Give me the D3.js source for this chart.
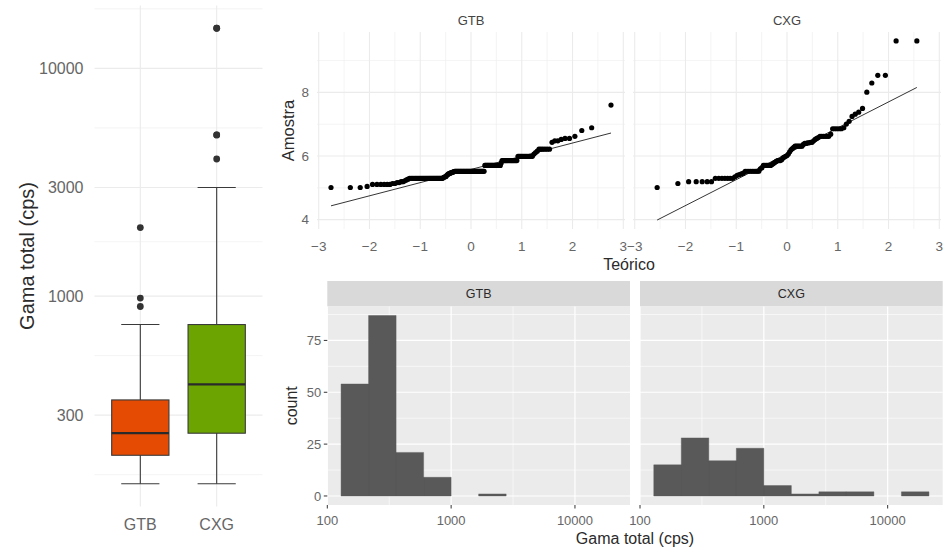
<!DOCTYPE html>
<html>
<head>
<meta charset="utf-8">
<script src="https://cdn.jsdelivr.net/npm/d3@7"></script>
<style>
  html, body { margin: 0; padding: 0; background: #ffffff; }
  svg { display: block; font-family: "Liberation Sans", Arial, Helvetica, sans-serif; }
</style>
</head>
<body>
<svg id="chart" width="948" height="548"></svg>
<script>
// ---- data -------------------------------------------------------------
const sites = ["GTB", "CXG"];
const siteColors = ["#E54B03", "#6CA502"];

// Gamma total (cps) per sample, as distinct value + number of occurrences
const gtbValues  = [150,155,165,170,175,180,185,190,195,200,205,208,210,212,220,225,230,232,235,238,240,242,245,248,250,300,325,350,400,430,450,470,500,620,650,680,700,750,900,980,2000];
const gtbRepeats = [3,1,6,2,2,2,1,1,1,31,1,1,1,1,1,1,1,1,1,1,1,1,1,1,40,20,1,16,12,1,1,1,6,1,2,1,2,1,1,1,1];

const cxgValues  = [150,170,180,200,210,220,225,230,235,250,270,280,300,310,320,330,340,350,360,380,390,400,410,430,460,490,510,530,550,580,600,610,620,650,680,700,720,750,800,950,980,1100,1200,1400,1500,1600,1800,3000,4000,5100,15000];
const cxgRepeats = [1,1,5,7,1,1,1,1,1,9,1,1,6,1,1,1,1,3,1,1,1,1,1,1,1,1,1,1,6,1,2,2,2,1,1,1,1,6,1,5,1,1,1,1,1,1,1,1,1,2,2];

// axis breaks
const boxTicks   = [300, 1000, 3000, 10000];
const histTicks  = [100, 1000, 10000];
const countTicks = [0, 25, 50, 75];
const qqXTicks   = [-3, -2, -1, 0, 1, 2, 3];
const qqYTicks   = [4, 6, 8];

// ---- helpers ------------------------------------------------------------
const unroll = (vals, reps) => vals.flatMap((v, i) => Array(reps[i]).fill(v));
const samples = [unroll(gtbValues, gtbRepeats), unroll(cxgValues, cxgRepeats)].map(a => a.slice().sort(d3.ascending));

const expand = (lo, hi, f = 0.05) => { const d = (hi - lo) * f; return [lo - d, hi + d]; };

// inverse standard normal CDF (Acklam)
function qnorm(p) {
  const a = [-3.969683028665376e+01, 2.209460984245205e+02, -2.759285104469687e+02, 1.383577518672690e+02, -3.066479806614716e+01, 2.506628277459239e+00];
  const b = [-5.447609879822406e+01, 1.615858368580409e+02, -1.556989798598866e+02, 6.680131188771972e+01, -1.328068155288572e+01];
  const c = [-7.784894002430293e-03, -3.223964580411365e-01, -2.400758277161838e+00, -2.549732539343734e+00, 4.374664141464968e+00, 2.938163982698783e+00];
  const d = [7.784695709041462e-03, 3.224671290700398e-01, 2.445134137142996e+00, 3.754408661907416e+00];
  const pl = 0.02425, ph = 1 - pl;
  let q, r;
  if (p < pl) {
    q = Math.sqrt(-2 * Math.log(p));
    return (((((c[0]*q+c[1])*q+c[2])*q+c[3])*q+c[4])*q+c[5]) / ((((d[0]*q+d[1])*q+d[2])*q+d[3])*q+1);
  }
  if (p > ph) {
    q = Math.sqrt(-2 * Math.log(1 - p));
    return -(((((c[0]*q+c[1])*q+c[2])*q+c[3])*q+c[4])*q+c[5]) / ((((d[0]*q+d[1])*q+d[2])*q+d[3])*q+1);
  }
  q = p - 0.5; r = q * q;
  return (((((a[0]*r+a[1])*r+a[2])*r+a[3])*r+a[4])*r+a[5])*q / (((((b[0]*r+b[1])*r+b[2])*r+b[3])*r+b[4])*r+1);
}

const svg = d3.select("#chart");
const TICK_COL = "#666666", TITLE_COL = "#2b2b2b", GRID_MIN = "#EDEDED", GRID_MAJ = "#EBEBEB";

function text(g, x, y, s, size, col, anchor = "middle", rot = 0) {
  const t = g.append("text")
    .attr("x", x).attr("y", y).attr("dy", "0.35em")
    .attr("text-anchor", anchor)
    .attr("font-size", size).attr("fill", col).text(s);
  if (rot) t.attr("transform", `rotate(${rot},${x},${y})`);
  return t;
}

// minor breaks halfway between majors (in transformed space)
function minorBreaks(major, lim) {
  const b = major.slice();
  if (b[0] > lim[0]) b.unshift(b[0] - (b[1] - b[0]));
  if (b[b.length - 1] < lim[1]) b.push(b[b.length - 1] + (b[b.length - 1] - b[b.length - 2]));
  const out = [];
  for (let i = 0; i < b.length - 1; i++) out.push((b[i] + b[i + 1]) / 2);
  return out.filter(v => v >= lim[0] && v <= lim[1]);
}

// ---- left: box plot on log axis ----------------------------------------
(function boxPlot() {
  const P = { x0: 94.5, x1: 262.5, y0: 5.5, y1: 506.5 };
  const g = svg.append("g");
  const all = samples.flat().map(Math.log10);
  const lim = expand(d3.min(all), d3.max(all));
  const y = d3.scaleLog().domain(lim.map(v => 10 ** v)).range([P.y1, P.y0]);
  const x = d3.scalePoint().domain(sites).range([P.x0, P.x1]).padding(0.6);
  const step = x.step();

  // grid
  minorBreaks(boxTicks.map(Math.log10), lim).forEach(v => {
    g.append("line").attr("x1", P.x0).attr("x2", P.x1).attr("y1", y(10 ** v)).attr("y2", y(10 ** v))
      .attr("stroke", GRID_MIN).attr("stroke-width", 0.6);
  });
  boxTicks.forEach(v => {
    g.append("line").attr("x1", P.x0).attr("x2", P.x1).attr("y1", y(v)).attr("y2", y(v))
      .attr("stroke", GRID_MAJ).attr("stroke-width", 1.1);
    text(g, P.x0 - 11, y(v), d3.format("d")(v), 16, TICK_COL, "end");
  });
  sites.forEach(s => {
    g.append("line").attr("x1", x(s)).attr("x2", x(s)).attr("y1", P.y0).attr("y2", P.y1)
      .attr("stroke", GRID_MAJ).attr("stroke-width", 1.1);
    text(g, x(s), 524, s, 16, TICK_COL);
  });

  samples.forEach((smp, i) => {
    const lg = smp.map(Math.log10);
    const q1 = d3.quantile(lg, 0.25), med = d3.quantile(lg, 0.5), q3 = d3.quantile(lg, 0.75);
    const iqr = q3 - q1;
    const inside = lg.filter(v => v >= q1 - 1.5 * iqr && v <= q3 + 1.5 * iqr);
    const lo = d3.min(inside), hi = d3.max(inside);
    const outl = lg.filter(v => v < lo || v > hi);
    const cx = x(sites[i]);
    const bw = step * 0.75, ew = step * 0.5;
    const Y = v => y(10 ** v);
    // whisker bar with caps
    g.append("line").attr("x1", cx).attr("x2", cx).attr("y1", Y(lo)).attr("y2", Y(hi))
      .attr("stroke", "#3a3a3a").attr("stroke-width", 1.1);
    [lo, hi].forEach(v => g.append("line").attr("x1", cx - ew / 2).attr("x2", cx + ew / 2)
      .attr("y1", Y(v)).attr("y2", Y(v)).attr("stroke", "#3a3a3a").attr("stroke-width", 1.1));
    // box
    g.append("rect").attr("x", cx - bw / 2).attr("width", bw).attr("y", Y(q3)).attr("height", Y(q1) - Y(q3))
      .attr("fill", siteColors[i]).attr("stroke", "#3a3a3a").attr("stroke-width", 1.1);
    g.append("line").attr("x1", cx - bw / 2).attr("x2", cx + bw / 2).attr("y1", Y(med)).attr("y2", Y(med))
      .attr("stroke", "#2a2a2a").attr("stroke-width", 2.3);
    outl.forEach(v => g.append("circle").attr("cx", cx).attr("cy", Y(v)).attr("r", 3.4).attr("fill", "#333"));
  });

  text(g, 27, (P.y0 + P.y1) / 2, "Gama total (cps)", 20, TITLE_COL, "middle", -90);
})();

// ---- top right: normal Q-Q plots of ln(values) ----------------------------
(function qqPlot() {
  const P = { y0: 32, y1: 229, cols: [[317, 625], [633, 941]] };
  const g = svg.append("g");
  const qq = samples.map(smp => {
    const n = smp.length;
    const ln = smp.map(Math.log);
    const pts = ln.map((v, k) => ({ t: qnorm((k + 0.5) / n), s: v }));
    const s1 = d3.quantile(ln, 0.25), s3 = d3.quantile(ln, 0.75);
    const t1 = qnorm(0.25), t3 = qnorm(0.75);
    const slope = (s3 - s1) / (t3 - t1), icpt = s1 - slope * t1;
    const tx = d3.extent(pts, d => d.t);
    return { pts, line: tx.map(t => ({ t, s: icpt + slope * t })) };
  });
  const allT = qq.flatMap(d => d.pts.map(p => p.t));
  const allS = qq.flatMap(d => d.pts.map(p => p.s).concat(d.line.map(p => p.s)));
  const xl = expand(d3.min(allT), d3.max(allT));
  const yl = expand(d3.min(allS), d3.max(allS));
  const y = d3.scaleLinear().domain(yl).range([P.y1, P.y0]);

  qq.forEach((d, i) => {
    const [c0, c1] = P.cols[i];
    const x = d3.scaleLinear().domain(xl).range([c0, c1]);
    minorBreaks(qqXTicks, xl).forEach(v => g.append("line").attr("x1", x(v)).attr("x2", x(v))
      .attr("y1", P.y0).attr("y2", P.y1).attr("stroke", GRID_MIN).attr("stroke-width", 0.6));
    minorBreaks(qqYTicks, yl).forEach(v => g.append("line").attr("x1", c0).attr("x2", c1)
      .attr("y1", y(v)).attr("y2", y(v)).attr("stroke", GRID_MIN).attr("stroke-width", 0.6));
    qqXTicks.forEach(v => {
      g.append("line").attr("x1", x(v)).attr("x2", x(v)).attr("y1", P.y0).attr("y2", P.y1)
        .attr("stroke", GRID_MAJ).attr("stroke-width", 1.1);
      text(g, x(v), 246, d3.format("d")(v), 13.5, TICK_COL);
    });
    qqYTicks.forEach(v => g.append("line").attr("x1", c0).attr("x2", c1).attr("y1", y(v)).attr("y2", y(v))
      .attr("stroke", GRID_MAJ).attr("stroke-width", 1.1));
    if (i === 0) qqYTicks.forEach(v => text(g, c0 - 8, y(v), v, 13.5, TICK_COL, "end"));

    text(g, (c0 + c1) / 2, 20, sites[i], 13, "#444");

    g.append("g").selectAll("circle").data(d.pts).join("circle")
      .attr("cx", p => x(p.t)).attr("cy", p => y(p.s)).attr("r", 2.6).attr("fill", "#000");
    g.append("path").datum(d.line)
      .attr("d", d3.line().x(p => x(p.t)).y(p => y(p.s)))
      .attr("stroke", "#000").attr("stroke-width", 0.8).attr("fill", "none");
  });

  text(g, 288, (P.y0 + P.y1) / 2, "Amostra", 16.5, TITLE_COL, "middle", -90);
  text(g, (P.cols[0][0] + P.cols[1][1]) / 2, 264, "Teórico", 16, TITLE_COL);
})();

// ---- bottom right: histograms on log axis ---------------------------------
(function histPlot() {
  const P = { y0: 306.5, y1: 505, s0: 281, cols: [[327.3, 630], [640, 942.7]] };
  const g = svg.append("g");
  const all = samples.flat().map(Math.log10);
  const [mn, mx] = d3.extent(all);
  const nb = 10;
  const w = (mx - mn) / (nb - 1);
  const origin = w / 2 + Math.floor((mn - w / 2) / w) * w;
  const edges = d3.range(nb + 1).map(k => origin + k * w);
  const binner = d3.bin().domain([edges[0], edges[nb]]).thresholds(edges.slice(1, nb));
  const bins = samples.map(smp => binner(smp.map(Math.log10)));

  const xl = expand(edges[0], edges[nb]);
  const maxC = d3.max(bins.flat(), b => b.length);
  const yl = expand(0, maxC);
  const y = d3.scaleLinear().domain(yl).range([P.y1, P.y0]);

  bins.forEach((bs, i) => {
    const [c0, c1] = P.cols[i];
    const x = d3.scaleLog().domain(xl.map(v => 10 ** v)).range([c0, c1]);
    // strip
    g.append("rect").attr("x", c0).attr("y", P.s0).attr("width", c1 - c0).attr("height", P.y0 - P.s0).attr("fill", "#D9D9D9");
    text(g, (c0 + c1) / 2, (P.s0 + P.y0) / 2, sites[i], 12.5, "#2a2a2a");
    // panel
    g.append("rect").attr("x", c0).attr("y", P.y0).attr("width", c1 - c0).attr("height", P.y1 - P.y0).attr("fill", "#EBEBEB");
    minorBreaks(histTicks.map(Math.log10), xl).forEach(v => g.append("line")
      .attr("x1", x(10 ** v)).attr("x2", x(10 ** v)).attr("y1", P.y0).attr("y2", P.y1)
      .attr("stroke", "#fff").attr("stroke-width", 0.6));
    minorBreaks(countTicks, yl).forEach(v => g.append("line")
      .attr("x1", c0).attr("x2", c1).attr("y1", y(v)).attr("y2", y(v))
      .attr("stroke", "#fff").attr("stroke-width", 0.6));
    histTicks.forEach(v => {
      g.append("line").attr("x1", x(v)).attr("x2", x(v)).attr("y1", P.y0).attr("y2", P.y1)
        .attr("stroke", "#fff").attr("stroke-width", 1.2);
      g.append("line").attr("x1", x(v)).attr("x2", x(v)).attr("y1", P.y1).attr("y2", P.y1 + 3.5)
        .attr("stroke", "#333").attr("stroke-width", 1);
      text(g, x(v), 520, d3.format("d")(v), 13, TICK_COL);
    });
    countTicks.forEach(v => g.append("line").attr("x1", c0).attr("x2", c1).attr("y1", y(v)).attr("y2", y(v))
      .attr("stroke", "#fff").attr("stroke-width", 1.2));
    if (i === 0) countTicks.forEach(v => {
      g.append("line").attr("x1", c0 - 3.5).attr("x2", c0).attr("y1", y(v)).attr("y2", y(v))
        .attr("stroke", "#333").attr("stroke-width", 1);
      text(g, c0 - 6, y(v), v, 13, TICK_COL, "end");
    });
    // bars: one path per panel so neighbouring bins share edges without seams
    const barPath = d3.path();
    bs.filter(b => b.length > 0).forEach(b => {
      const x0 = x(10 ** b.x0), x1 = x(10 ** b.x1);
      barPath.rect(x0, y(b.length), x1 - x0, y(0) - y(b.length));
    });
    g.append("path").attr("d", barPath.toString()).attr("fill", "#595959")
      .attr("stroke", "#595959").attr("stroke-width", 0.4);
  });

  text(g, 291, (P.y0 + P.y1) / 2, "count", 16, TITLE_COL, "middle", -90);
  text(g, (P.cols[0][0] + P.cols[1][1]) / 2, 538, "Gama total (cps)", 16, TITLE_COL);
})();
</script>
</body>
</html>
